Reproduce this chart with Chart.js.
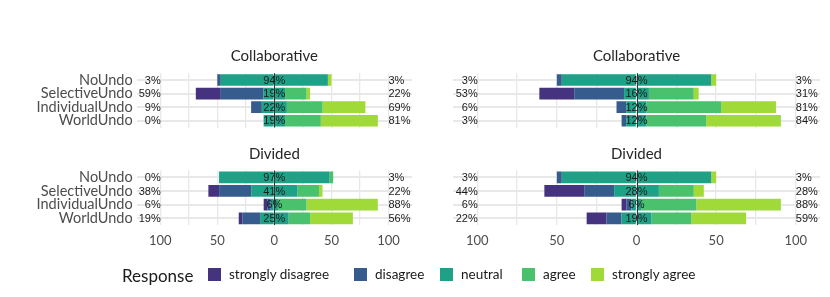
<!DOCTYPE html>
<html><head><meta charset="utf-8">
<script src="https://cdn.jsdelivr.net/npm/chart.js@4/dist/chart.umd.min.js"></script>
<style>
html,body{margin:0;padding:0;background:#fff;}
#wrap{position:relative;width:830px;height:297px;overflow:hidden;background:#fff;}
canvas{position:absolute;left:0;top:0;}
.lt{position:absolute;font-family:Lato,sans-serif;color:#1a1a1a;white-space:nowrap;line-height:1;}
.sq{position:absolute;width:13px;height:13px;box-sizing:border-box;}
</style></head><body>
<div id="wrap">
<canvas id="c0" width="830" height="297"></canvas>
<canvas id="c1" width="830" height="297"></canvas>
<canvas id="c2" width="830" height="297"></canvas>
<canvas id="c3" width="830" height="297"></canvas>
<div id="legend"></div>
</div>
<script>
// ---------- data ----------
const items = ["NoUndo", "SelectiveUndo", "IndividualUndo", "WorldUndo"];
const responses = ["strongly disagree", "disagree", "neutral", "agree", "strongly agree"];
const panelTitles = ["Collaborative", "Collaborative", "Divided", "Divided"];

// Collaborative, left column (percent)
const colL_stronglyDisagree = [0, 21.9, 0, 0];
const colL_disagree         = [3.1, 37.5, 9.4, 0];
const colL_neutral          = [93.8, 18.8, 21.9, 18.8];
const colL_agree            = [0, 18.8, 31.3, 31.3];
const colL_stronglyAgree    = [3.1, 3.1, 37.5, 50.0];
const colL_lowLabels  = ["3%", "59%", "9%", "0%"];
const colL_midLabels  = ["94%", "19%", "22%", "19%"];
const colL_highLabels = ["3%", "22%", "69%", "81%"];

// Collaborative, right column
const colR_stronglyDisagree = [0, 21.9, 0, 0];
const colR_disagree         = [3.1, 31.3, 6.3, 3.1];
const colR_neutral          = [93.8, 15.6, 12.5, 12.5];
const colR_agree            = [0, 28.1, 46.9, 37.5];
const colR_stronglyAgree    = [3.1, 3.1, 34.4, 46.9];
const colR_lowLabels  = ["3%", "53%", "6%", "3%"];
const colR_midLabels  = ["94%", "16%", "12%", "12%"];
const colR_highLabels = ["3%", "31%", "81%", "84%"];

// Divided, left column
const divL_stronglyDisagree = [0, 9.4, 3.1, 3.1];
const divL_disagree         = [0, 28.1, 3.1, 15.6];
const divL_neutral          = [96.9, 40.6, 6.3, 25.0];
const divL_agree            = [3.1, 18.8, 25.0, 18.8];
const divL_stronglyAgree    = [0, 3.1, 62.5, 37.5];
const divL_lowLabels  = ["0%", "38%", "6%", "19%"];
const divL_midLabels  = ["97%", "41%", "6%", "25%"];
const divL_highLabels = ["3%", "22%", "88%", "56%"];

// Divided, right column
const divR_stronglyDisagree = [0, 25.0, 3.1, 12.5];
const divR_disagree         = [3.1, 18.8, 3.1, 9.4];
const divR_neutral          = [93.8, 28.1, 6.3, 18.8];
const divR_agree            = [0, 21.9, 34.4, 25.0];
const divR_stronglyAgree    = [3.1, 6.3, 53.1, 34.4];
const divR_lowLabels  = ["3%", "44%", "6%", "22%"];
const divR_midLabels  = ["94%", "28%", "6%", "19%"];
const divR_highLabels = ["3%", "28%", "88%", "59%"];

// axis ticks
const xGridValues = [-100, -75, -50, -25, 0, 25, 50, 75, 100];
const xTickValues = [-100, -50, 0, 50, 100];
const xTickLabels = ["100", "50", "0", "50", "100"];

// ---------- style ----------
const COLORS = ["#46337f", "#365c8d", "#1fa187", "#4ac16d", "#a0da39"];

const panels = [
  {id:"c0", title:panelTitles[0], left:true,  top:true,  data:[colL_stronglyDisagree,colL_disagree,colL_neutral,colL_agree,colL_stronglyAgree], low:colL_lowLabels, mid:colL_midLabels, high:colL_highLabels},
  {id:"c1", title:panelTitles[1], left:false, top:true,  data:[colR_stronglyDisagree,colR_disagree,colR_neutral,colR_agree,colR_stronglyAgree], low:colR_lowLabels, mid:colR_midLabels, high:colR_highLabels},
  {id:"c2", title:panelTitles[2], left:true,  top:false, data:[divL_stronglyDisagree,divL_disagree,divL_neutral,divL_agree,divL_stronglyAgree], low:divL_lowLabels, mid:divL_midLabels, high:divL_highLabels},
  {id:"c3", title:panelTitles[3], left:false, top:false, data:[divR_stronglyDisagree,divR_disagree,divR_neutral,divR_agree,divR_stronglyAgree], low:divR_lowLabels, mid:divR_midLabels, high:divR_highLabels}
];

function makeDatasets(d) {
  const [sd, dis, neu, agr, sag] = d;
  const base = {stack:"s", barPercentage:0.86, categoryPercentage:1, borderWidth:0};
  return [
    {label:responses[2], data:neu.map(v=>-v/2), backgroundColor:COLORS[2]},
    {label:responses[1], data:dis.map(v=>-v),   backgroundColor:COLORS[1]},
    {label:responses[0], data:sd.map(v=>-v),    backgroundColor:COLORS[0]},
    {label:responses[2], data:neu.map(v=>v/2),  backgroundColor:COLORS[2]},
    {label:responses[3], data:agr,              backgroundColor:COLORS[3]},
    {label:responses[4], data:sag,              backgroundColor:COLORS[4]}
  ].map(ds=>Object.assign({}, base, ds));
}

function textPlugin(p) {
  return {
    id:"panelText",
    afterDatasetsDraw(chart) {
      const {ctx, chartArea, scales:{x, y}} = chart;
      ctx.save();
      const x0 = Math.round(x.getPixelForValue(0)) + 0.5;
      ctx.strokeStyle = "#333333"; ctx.lineWidth = 1;
      ctx.beginPath(); ctx.moveTo(x0, chartArea.top); ctx.lineTo(x0, chartArea.bottom); ctx.stroke();
      ctx.font = '11px "Liberation Sans", Arial, sans-serif';
      ctx.fillStyle = "#1a1a1a"; ctx.textBaseline = "middle";
      items.forEach((it, i) => {
        const yy = y.getPixelForValue(i) + 0.5;
        ctx.textAlign = "right";  ctx.fillText(p.low[i],  x.getPixelForValue(-100) + 0.5, yy);
        ctx.textAlign = "center"; ctx.fillText(p.mid[i],  x.getPixelForValue(0), yy);
        ctx.textAlign = "left";   ctx.fillText(p.high[i], x.getPixelForValue(100), yy);
      });
      ctx.font = '15px Lato, sans-serif';
      ctx.fillStyle = "#262626";
      ctx.textAlign = "center"; ctx.textBaseline = "alphabetic";
      ctx.fillText(p.title, (chartArea.left + chartArea.right) / 2, p.top ? 60.7 : 158.5);
      ctx.restore();
    }
  };
}

panels.forEach(p => {
  const R = p.left ? 120.6 : 115.2;
  new Chart(document.getElementById(p.id), {
    type:"bar",
    data:{labels:items, datasets:makeDatasets(p.data)},
    plugins:[textPlugin(p)],
    options:{
      indexAxis:"y", responsive:false, animation:false, devicePixelRatio:1,
      layout:{padding:{
        left: p.left ? 0 : 453,
        right: p.left ? 418 : 10,
        top: p.top ? 73.2 : 170.5,
        bottom: p.top ? 169.5 : 41.9
      }},
      plugins:{legend:{display:false}, title:{display:false}, tooltip:{enabled:false}},
      scales:{
        x:{
          type:"linear", stacked:true, min:-R, max:R,
          afterBuildTicks: s => { s.ticks = xGridValues.map(v => ({value:v})); },
          grid:{color:"#e8e8e8", lineWidth:1.3, drawTicks:false},
          border:{display:false},
          ticks:{
            display: !p.top, autoSkip:false, maxRotation:0, padding:8,
            font:{family:"Lato", size:13}, color:"#4d4d4d",
            callback: v => { const k = xTickValues.indexOf(v); return k >= 0 ? xTickLabels[k] : ""; }
          },
          afterFit: s => { s.height = p.top ? 0 : 30; }
        },
        y:{
          type:"category", stacked:true,
          grid:{offset:false, color:"#e8e8e8", lineWidth:2, drawTicks:false},
          border:{display:false},
          ticks:{display:p.left, autoSkip:false, padding:4, font:{family:"Lato", size:14.5}, color:"#4d4d4d"},
          afterFit: s => { s.width = p.left ? 136.7 : 0; }
        }
      }
    }
  });
});

// ---------- legend (HTML text) ----------
const legend = document.getElementById("legend");
const legTitle = document.createElement("div");
legTitle.className = "lt"; legTitle.textContent = "Response";
legTitle.style.cssText = "left:122px;top:267px;font-size:17px;";
legend.appendChild(legTitle);
const sqLeft = [208, 354, 440, 522, 591];
const txLeft = [229, 375, 461, 543, 612];
responses.forEach((r, i) => {
  const sq = document.createElement("div");
  sq.className = "sq";
  sq.style.cssText = `left:${sqLeft[i]}px;top:268px;background:${COLORS[i]};`;
  legend.appendChild(sq);
  const t = document.createElement("div");
  t.className = "lt"; t.textContent = r;
  t.style.cssText = `left:${txLeft[i]}px;top:268px;font-size:13.5px;`;
  legend.appendChild(t);
});
</script>
</body></html>
